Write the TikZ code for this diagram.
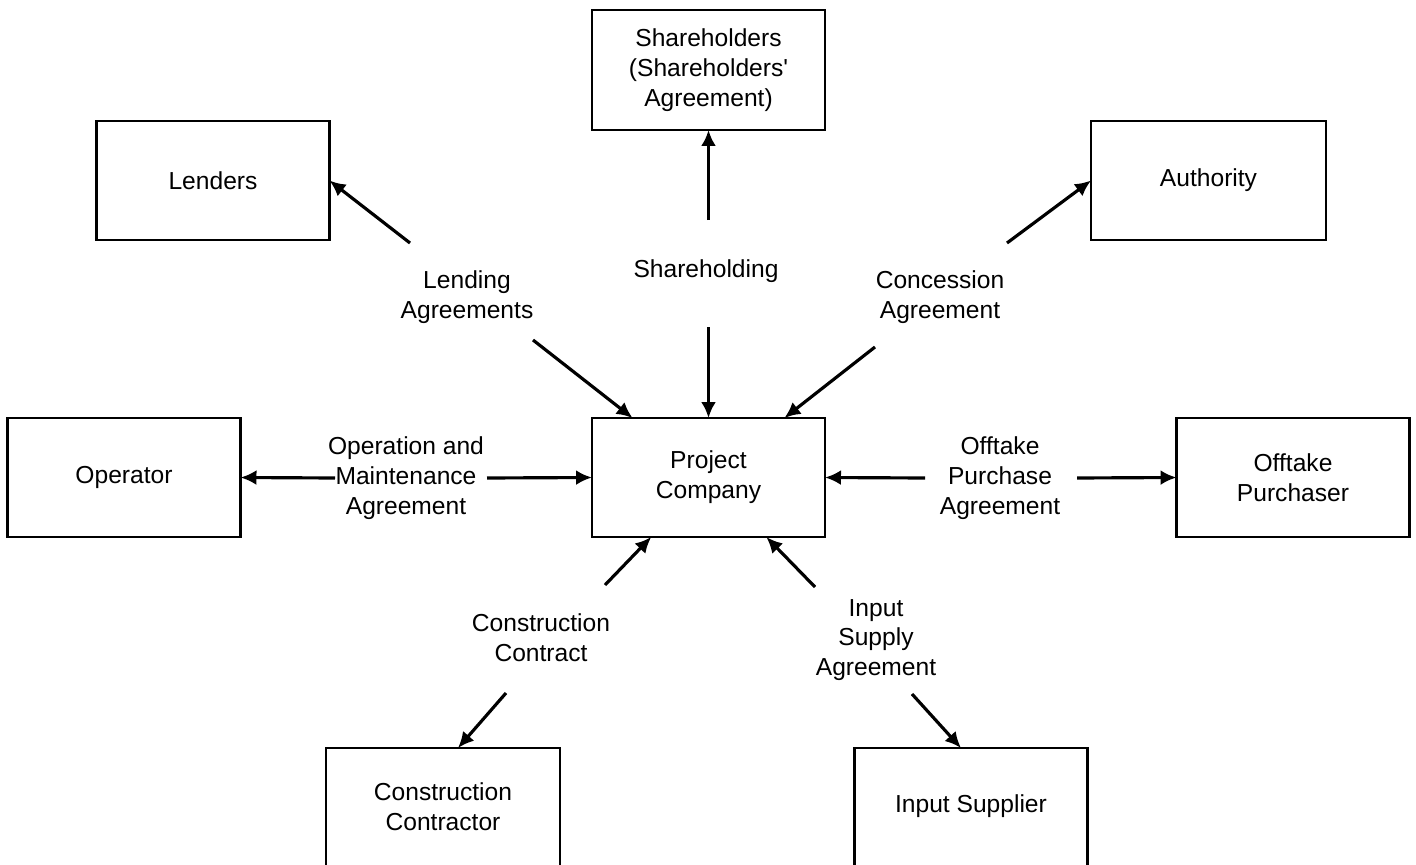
\documentclass[tikz,border=0pt]{standalone}
\usepackage{fontspec}
\setmainfont{Liberation Sans}[Ligatures=TeXOff]
\usetikzlibrary{arrows.meta,calc}
\tikzset{
  box/.style={draw=black, line width=1.2pt, minimum width=4.66cm, minimum height=2.38cm, align=center, inner sep=0pt, outer sep=0pt, font=\fontsize{14}{17}\selectfont},
  lbl/.style={align=center, inner sep=0pt, font=\fontsize{14}{17}\selectfont},
  conn/.style={line width=1.8pt, -{Latex[length=0.32cm,width=0.3cm]}}
}
\begin{document}
\begin{tikzpicture}[x=0.02cm,y=-0.02cm]
\useasboundingbox[fill=white] (0,0) rectangle (1416,865);
% boxes
\node[box, minimum height=2.4cm] (S) at (708.5,70) {Shareholders\\(Shareholders'\\Agreement)};
\node[box] (L) at (213,180.5) {Lenders};
\node[box, minimum width=4.7cm] (A) at (1208.5,180.5) {Authority};
\node[box] (O) at (124,477.5) {Operator};
\node[box] (P) at (708.5,477.5) {Project\\Company};
\node[box] (T) at (1293,477.5) {Offtake\\Purchaser};
\node[box, minimum width=4.68cm, minimum height=2.5cm] (C) at (443,810.5) {};
\node[lbl] (Ct) at (443,807) {Construction\\Contractor};
\node[box, minimum height=2.5cm] (I) at (971,810.5) {};
\node[lbl] (It) at (971,806) {Input Supplier};
% labels
\node[lbl] (sh) at (706,271) {Shareholding};
\node[lbl] (la) at (467,297) {Lending\\Agreements};
\node[lbl] (ca) at (940,297) {Concession\\Agreement};
\node[lbl] (om) at (406,478) {Operation and\\Maintenance\\Agreement};
\node[lbl] (op) at (1000,478) {Offtake\\Purchase\\Agreement};
\node[lbl] (cc) at (541,638) {Construction\\Contract};
\node[lbl] (is) at (876,640) {Input\\Supply\\Agreement};
% free ends
\coordinate (sh1) at (708.5,220);
\coordinate (sh2) at (708.5,327);
\coordinate (la1) at (410,243);
\coordinate (la2) at (533,340);
\coordinate (ca1) at (1007,243);
\coordinate (ca2) at (875,347);
\coordinate (om1) at (335,478);
\coordinate (om2) at (487,478);
\coordinate (op1) at (925,478);
\coordinate (op2) at (1077,478);
\coordinate (cc1) at (605,585);
\coordinate (cc2) at (506,693);
\coordinate (is1) at (815,587);
\coordinate (is2) at (912,694);
% connectors
\draw[conn] (sh1) -- (S.south);
\draw[conn] (sh2) -- (P.north);
\draw[conn] (la1) -- (L.east);
\draw[conn] (la2) -- (P);
\draw[conn] (ca1) -- (A.west);
\draw[conn] (ca2) -- (P);
\draw[conn] (om1) -- (O.east);
\draw[conn] (om2) -- (P.west);
\draw[conn] (op1) -- (P.east);
\draw[conn] (op2) -- (T.west);
\draw[conn] (cc1) -- (P);
\draw[conn] (cc2) -- ($(C.north)+(15,0)$);
\draw[conn] (is1) -- (P);
\draw[conn] (is2) -- ($(I.north)+(-10,0)$);
\end{tikzpicture}
\end{document}
